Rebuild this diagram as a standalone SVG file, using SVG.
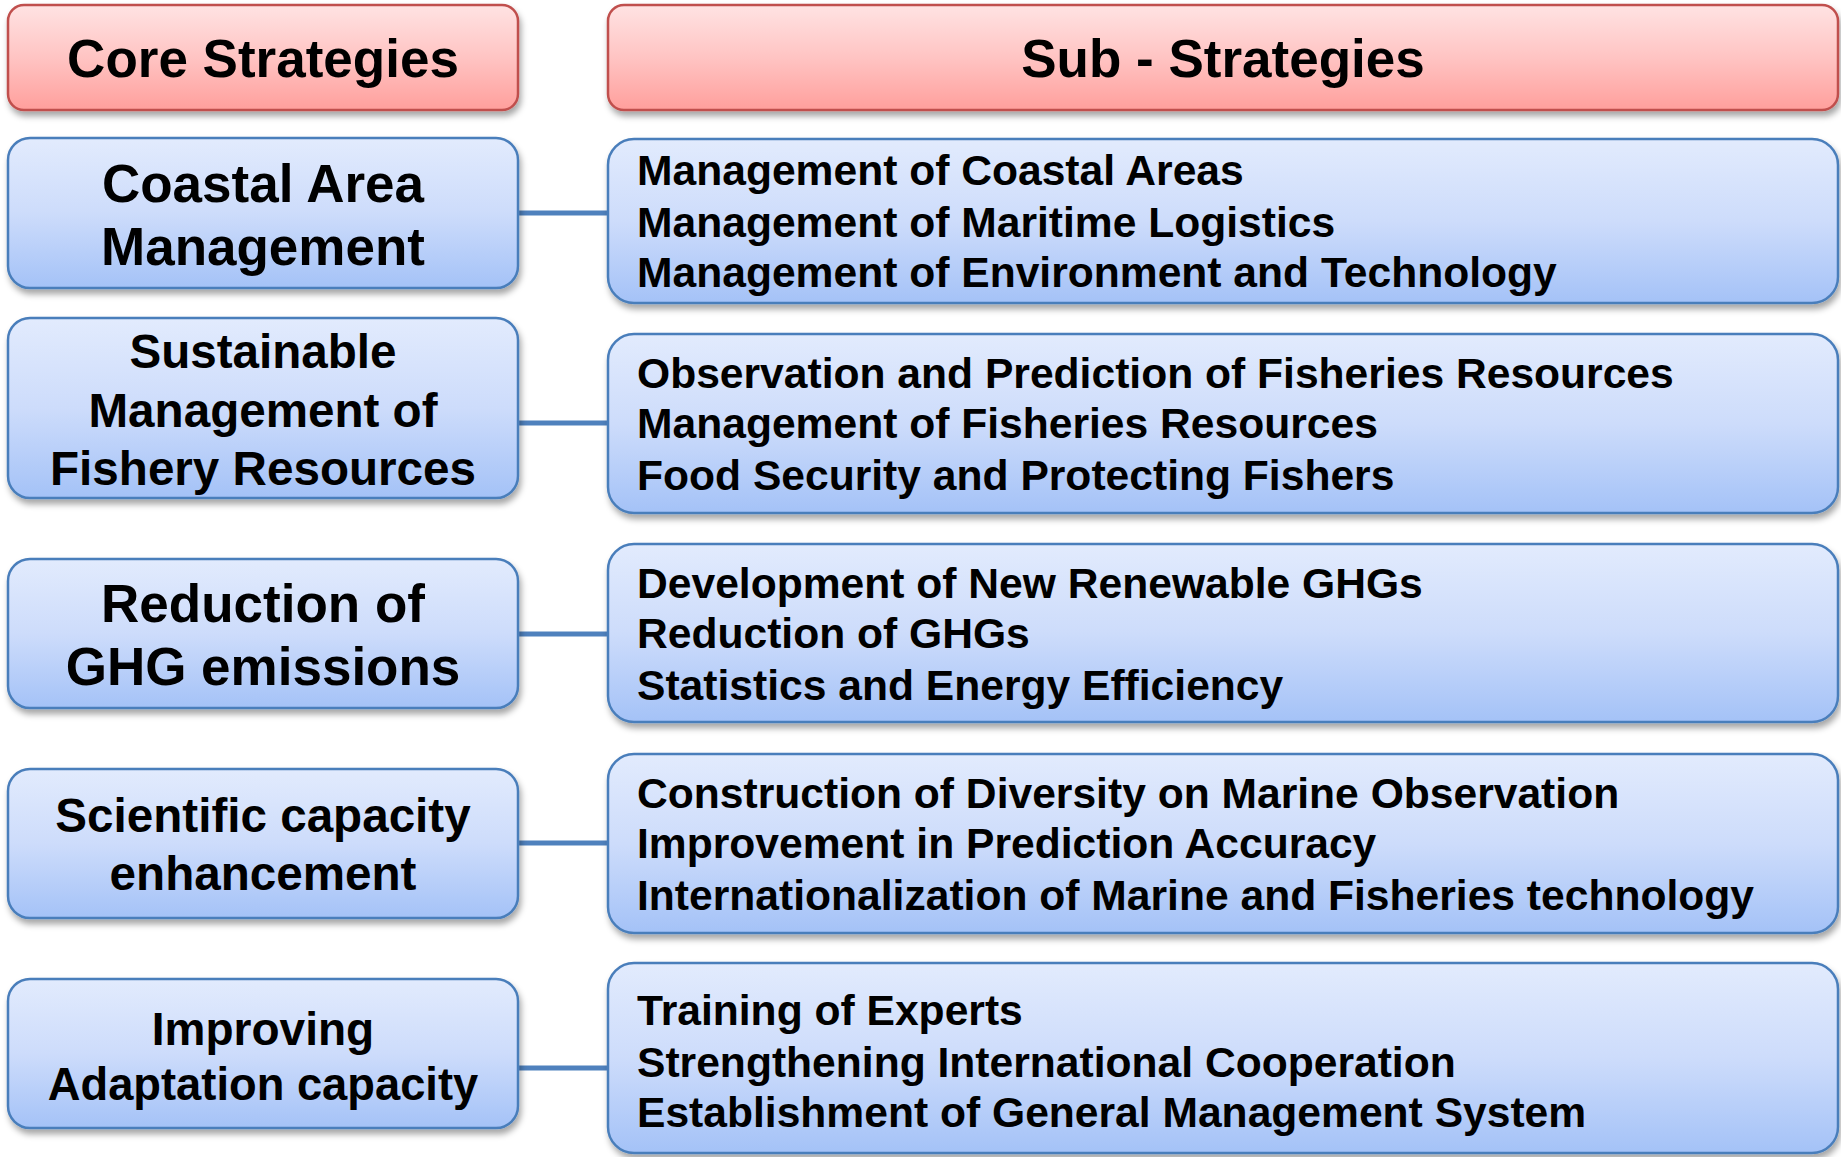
<svg xmlns="http://www.w3.org/2000/svg" width="1841" height="1157" viewBox="0 0 1841 1157">
<defs>
<linearGradient id="gBlue" x1="0" y1="0" x2="0" y2="1">
<stop offset="0" stop-color="#e2ebfd"/>
<stop offset="0.5" stop-color="#cddcfb"/>
<stop offset="1" stop-color="#a4c2f7"/>
</linearGradient>
<linearGradient id="gRed" x1="0" y1="0" x2="0" y2="1">
<stop offset="0" stop-color="#ffe3e3"/>
<stop offset="0.5" stop-color="#ffc4c3"/>
<stop offset="1" stop-color="#ff9f9c"/>
</linearGradient>
<filter id="sh" x="-5%" y="-10%" width="112%" height="130%">
<feDropShadow dx="2" dy="5" stdDeviation="3" flood-color="#000" flood-opacity="0.35"/>
</filter>
</defs>
<style>
.b{fill:url(#gBlue);stroke:#4a7ebb;stroke-width:2.5;filter:url(#sh)}
.r{fill:url(#gRed);stroke:#c0504d;stroke-width:2.5;filter:url(#sh)}
text{font-family:"Liberation Sans",Arial,sans-serif;font-weight:bold;fill:#000}
.h{font-size:53px;text-anchor:middle}
.c53{font-size:53px;text-anchor:middle}
.c47{font-size:47.6px;text-anchor:middle}
.s{font-size:42.6px}
.conn{stroke:#4f81bd;stroke-width:5;fill:none}
</style>
<g id="connectors">
<line class="conn" x1="518" y1="213" x2="608" y2="213"/>
<line class="conn" x1="518" y1="423" x2="608" y2="423"/>
<line class="conn" x1="518" y1="634" x2="608" y2="634"/>
<line class="conn" x1="518" y1="843" x2="608" y2="843"/>
<line class="conn" x1="518" y1="1068" x2="608" y2="1068"/>
</g>
<g id="core-header">
<rect class="r" x="8" y="5" width="510" height="105" rx="16"/>
<text class="h" x="263" y="77">Core Strategies</text>
</g>
<g id="sub-header">
<rect class="r" x="608" y="5" width="1230" height="105" rx="16"/>
<text class="h" x="1223" y="77">Sub - Strategies</text>
</g>
<g id="core-1">
<rect class="b" x="8" y="138" width="510" height="150" rx="22"/>
<text class="c53" x="263" y="202">Coastal Area</text>
<text class="c53" x="263" y="265">Management</text>
</g>
<g id="core-2">
<rect class="b" x="8" y="318" width="510" height="180" rx="22"/>
<text class="c47" x="263" y="368">Sustainable</text>
<text class="c47" x="263" y="427">Management of</text>
<text class="c47" x="263" y="485">Fishery Resources</text>
</g>
<g id="core-3">
<rect class="b" x="8" y="559" width="510" height="149" rx="22"/>
<text class="c53" x="263" y="622">Reduction of</text>
<text class="c53" x="263" y="685">GHG emissions</text>
</g>
<g id="core-4">
<rect class="b" x="8" y="769" width="510" height="149" rx="22"/>
<text class="c47" x="263" y="832">Scientific capacity</text>
<text class="c47" x="263" y="890">enhancement</text>
</g>
<g id="core-5">
<rect class="b" x="8" y="979" width="510" height="149" rx="22"/>
<text class="c47" x="263" y="1045" style="font-size:46px">Improving</text>
<text class="c47" x="263" y="1100" style="font-size:45.3px">Adaptation capacity</text>
</g>
<g id="sub-1">
<rect class="b" x="608" y="139" width="1230" height="164" rx="26"/>
<text class="s" x="637" y="185">Management of Coastal Areas</text>
<text class="s" x="637" y="237">Management of Maritime Logistics</text>
<text class="s" x="637" y="287">Management of Environment and Technology</text>
</g>
<g id="sub-2">
<rect class="b" x="608" y="334" width="1230" height="179" rx="26"/>
<text class="s" x="637" y="388">Observation and Prediction of Fisheries Resources</text>
<text class="s" x="637" y="438">Management of Fisheries Resources</text>
<text class="s" x="637" y="490">Food Security and Protecting Fishers</text>
</g>
<g id="sub-3">
<rect class="b" x="608" y="544" width="1230" height="178" rx="26"/>
<text class="s" x="637" y="598">Development of New Renewable GHGs</text>
<text class="s" x="637" y="648">Reduction of GHGs</text>
<text class="s" x="637" y="700">Statistics and Energy Efficiency</text>
</g>
<g id="sub-4">
<rect class="b" x="608" y="754" width="1230" height="179" rx="26"/>
<text class="s" x="637" y="808">Construction of Diversity on Marine Observation</text>
<text class="s" x="637" y="858">Improvement in Prediction Accuracy</text>
<text class="s" x="637" y="910">Internationalization of Marine and Fisheries technology</text>
</g>
<g id="sub-5">
<rect class="b" x="608" y="963" width="1230" height="190" rx="26"/>
<text class="s" x="637" y="1025">Training of Experts</text>
<text class="s" x="637" y="1077">Strengthening International Cooperation</text>
<text class="s" x="637" y="1127">Establishment of General Management System</text>
</g>
</svg>
